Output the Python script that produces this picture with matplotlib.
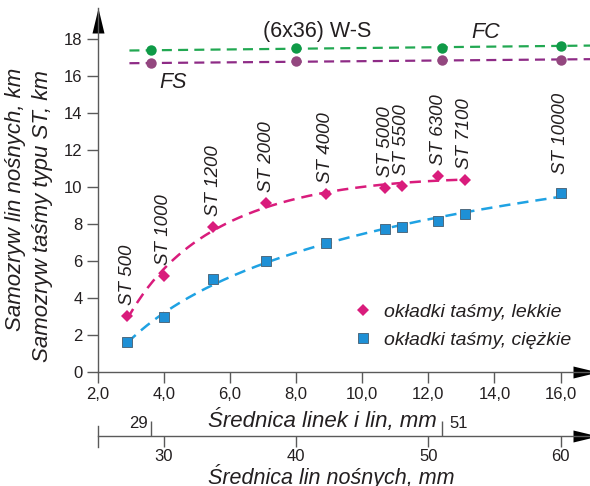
import numpy as np
import matplotlib
matplotlib.use("Agg")
import matplotlib.pyplot as plt
from matplotlib.path import Path

# ---------------- data ----------------
st_labels = ['ST 500', 'ST 1000', 'ST 1200', 'ST 2000', 'ST 4000', 'ST 5000',
             'ST 5500', 'ST 6300', 'ST 7100', 'ST 10000']
st_x = [2.9, 4.0, 5.5, 7.1, 8.9, 10.7, 11.2, 12.3, 13.1, 16.0]
light_y = [3.0, 5.2, 7.85, 9.15, 9.6, 9.95, 10.05, 10.6, 10.4]          # okładki lekkie
heavy_y = [1.6, 2.95, 5.0, 6.0, 6.95, 7.7, 7.85, 8.15, 8.55, 9.7]        # okładki ciężkie

ws_d = [29, 40, 51, 60]                  # średnica lin nośnych, mm
fc_y = [17.4, 17.5, 17.55, 17.65]
fs_y = [16.7, 16.8, 16.85, 16.9]
ws_line_start_d = 27.4

xticks = [2, 4, 6, 8, 10, 12, 14, 16]
xtick_labels = ['2,0', '4,0', '6,0', '8,0', '10,0', '12,0', '14,0', '16,0']
yticks = [0, 2, 4, 6, 8, 10, 12, 14, 16, 18]
ytick_labels = ['0', '2', '4', '6', '8', '10', '12', '14', '16', '18']
d_ticks = [30, 40, 50, 60]
d_tick_labels = ['30', '40', '50', '60']
d_minor = [29, 51]
d_minor_labels = ['29', '51']

# relation between the two diameter scales (2,0 <-> 25 ; 16,0 <-> 60)
X0, D0, K = 2.0, 25.0, 0.4
def d_to_x(d):
    return X0 + (np.asarray(d, dtype=float) - D0) * K
def x_to_d(x):
    return D0 + (np.asarray(x, dtype=float) - X0) / K

# ---------------- style ----------------
FONT = 'Liberation Sans'
plt.rcParams['font.family'] = [FONT, 'DejaVu Sans']
TXT = '#231F20'
AXC = '#5a5a5a'
PINK = '#D91C7C'
BLUE_M = '#1E90D6'
BLUE_L = '#1FA2E3'
GREEN_M = '#0F9A47'
GREEN_L = '#22A852'
PURP_M = '#93477F'
PURP_L = '#8E2B86'

W, H = 590, 486
fig = plt.figure(figsize=(W / 100, H / 100), dpi=100)

# main axes geometry in pixels
px_left, px_y0, px_top, px_right = 97.7, 371.7, 8.0, 598.0
ppu_x, ppu_y = 33.06, 18.47
ax = fig.add_axes([px_left / W, (H - px_y0) / H, (px_right - px_left) / W, (px_y0 - px_top) / H])
ax.set_xlim(2, 2 + (px_right - px_left) / ppu_x)
ax.set_ylim(0, (px_y0 - px_top) / ppu_y)
ax.patch.set_alpha(0)

for s in ['top', 'right']:
    ax.spines[s].set_visible(False)
for s in ['left', 'bottom']:
    ax.spines[s].set_color(AXC)
    ax.spines[s].set_linewidth(1.0)

ax.set_xticks(xticks, xtick_labels)
ax.set_yticks(yticks, ytick_labels)
ax.tick_params(axis='both', colors=AXC, labelcolor=TXT, labelsize=12, width=1.0, length=8, pad=3)

# arrow heads
right_head = Path([(0, 0), (-25, 6), (-25, -6), (0, 0)],
                  [Path.MOVETO, Path.LINETO, Path.LINETO, Path.CLOSEPOLY])
up_head = Path([(0, 0), (-6, -25), (6, -25), (0, 0)],
               [Path.MOVETO, Path.LINETO, Path.LINETO, Path.CLOSEPOLY])
ms_head = 50 * 72 / 100
ax.plot([1], [0], transform=ax.transAxes, marker=right_head, ms=ms_head, color='black',
        mew=0, clip_on=False, ls='none')
ax.plot([0], [1], transform=ax.transAxes, marker=up_head, ms=ms_head, color='black',
        mew=0, clip_on=False, ls='none')

dash = (4.5, 2.8)

# W-S lines (FC / FS)
ws_x = d_to_x(ws_d)
xl = np.array([d_to_x(ws_line_start_d), ax.get_xlim()[1]])
for yv, lc, mc in [(fc_y, GREEN_L, GREEN_M), (fs_y, PURP_L, PURP_M)]:
    c = np.polyfit(ws_x, yv, 1)
    ax.plot(xl, np.polyval(c, xl), color=lc, lw=1.6, dashes=dash, clip_on=False)
    ax.plot(ws_x, yv, 'o', color=mc, ms=7.5, mew=0, clip_on=False)

# trend curves for belts
lx = np.array(st_x[:len(light_y)])
cl = np.polyfit(np.log(lx), light_y, 2)
xs = np.linspace(lx.min(), lx.max(), 200)
ax.plot(xs, np.polyval(cl, np.log(xs)), color=PINK, lw=1.8, dashes=dash)

hx = np.array(st_x)
ch = np.polyfit(np.log(hx), heavy_y, 2)
xs = np.linspace(hx.min(), hx.max(), 200)
ax.plot(xs, np.polyval(ch, np.log(xs)), color=BLUE_L, lw=1.8, dashes=dash)

ax.plot(lx, light_y, 'D', color=PINK, ms=6.2, mew=0, ls='none', label='okładki taśmy, lekkie', zorder=5)
ax.plot(hx, heavy_y, 's', color=BLUE_M, mec='#4d6b80', mew=0.7, ms=6.5, ls='none',
        label='okładki taśmy, ciężkie', zorder=5)

# ST labels
for i, lab in enumerate(st_labels):
    if i < len(light_y):
        xy, off = (st_x[i], light_y[i]), 8
    else:
        xy, off = (st_x[i], heavy_y[i]), 13
    ax.annotate(lab, xy=xy, xytext=(0, off), textcoords='offset points', rotation=90,
                ha='center', va='bottom', fontsize=13.5, style='italic', color=TXT)

# W-S annotations
ax.annotate('(6x36) W-S', xy=(ws_x[1], fc_y[1]), xytext=(15, 12), textcoords='offset points',
            ha='center', va='center', fontsize=15.5, color=TXT)
ax.annotate('FC', xy=(ws_x[2], fc_y[2]), xytext=(32, 11), textcoords='offset points',
            ha='center', va='center', fontsize=15.5, style='italic', color=TXT)
ax.annotate('FS', xy=(ws_x[0], fs_y[0]), xytext=(16, -14), textcoords='offset points',
            ha='center', va='center', fontsize=15.5, style='italic', color=TXT)

# legend
leg = ax.legend(loc='upper left', bbox_to_anchor=(0.51, 0.188), frameon=False,
                prop={'family': FONT, 'style': 'italic', 'size': 14},
                handlelength=1.0, handletextpad=0.6, labelspacing=0.55, borderpad=0,
                borderaxespad=0)
for t in leg.get_texts():
    t.set_color(TXT)

# y labels
fig.text(16 / W, 1 - 199.5 / H, 'Samozryw lin nośnych, km', rotation=90, ha='center', va='center',
         fontsize=16, style='italic', color=TXT)
fig.text(43 / W, 1 - 216.5 / H, 'Samozryw taśmy typu ST, km', rotation=90, ha='center', va='center',
         fontsize=16, style='italic', color=TXT)

# x labels
fig.text(208 / W, 1 - 420 / H, 'Średnica linek i lin, mm', ha='left', va='center',
         fontsize=16, style='italic', color=TXT)
fig.text(208 / W, 1 - 476 / H, 'Średnica lin nośnych, mm', ha='left', va='center',
         fontsize=15.5, style='italic', color=TXT)

# secondary diameter scale
y2_top, y2_bot, y2_line = 426.0, 447.0, 435.5
ax2 = fig.add_axes([px_left / W, (H - y2_bot) / H, (px_right - px_left) / W, (y2_bot - y2_top) / H])
ax2.patch.set_alpha(0)
ax2.set_xlim(x_to_d(ax.get_xlim()[0]), x_to_d(ax.get_xlim()[1]))
ax2.set_ylim(0, 1)
for s in ['top', 'right', 'left']:
    ax2.spines[s].set_visible(False)
sp = (y2_bot - y2_line) / (y2_bot - y2_top)
ax2.spines['bottom'].set_position(('axes', sp))
ax2.spines['bottom'].set_color(AXC)
ax2.spines['bottom'].set_linewidth(1.0)
ax2.set_yticks([])
ax2.set_xticks(d_ticks, d_tick_labels)
ax2.set_xticks(d_minor, minor=True)
ax2.tick_params(axis='x', which='major', direction='out', length=8, width=1.0, colors=AXC,
                labelcolor=TXT, labelsize=12, pad=2)
ax2.tick_params(axis='x', which='minor', direction='in', length=11, width=1.0, colors=AXC)
ax2.axvline(D0, 0, 1, color=AXC, lw=1.0, clip_on=False)
tr = ax2.get_xaxis_transform()
ax2.annotate(d_minor_labels[0], xy=(d_minor[0], sp), xycoords=tr, xytext=(-2, 9),
             textcoords='offset points', ha='right', va='center', fontsize=12, color=TXT)
ax2.annotate(d_minor_labels[1], xy=(d_minor[1], sp), xycoords=tr, xytext=(6, 9),
             textcoords='offset points', ha='left', va='center', fontsize=12, color=TXT)
ax2.plot([1], [sp], transform=ax2.transAxes, marker=right_head, ms=ms_head, color='black',
         mew=0, clip_on=False, ls='none')

fig.savefig('out.png', dpi=100)
